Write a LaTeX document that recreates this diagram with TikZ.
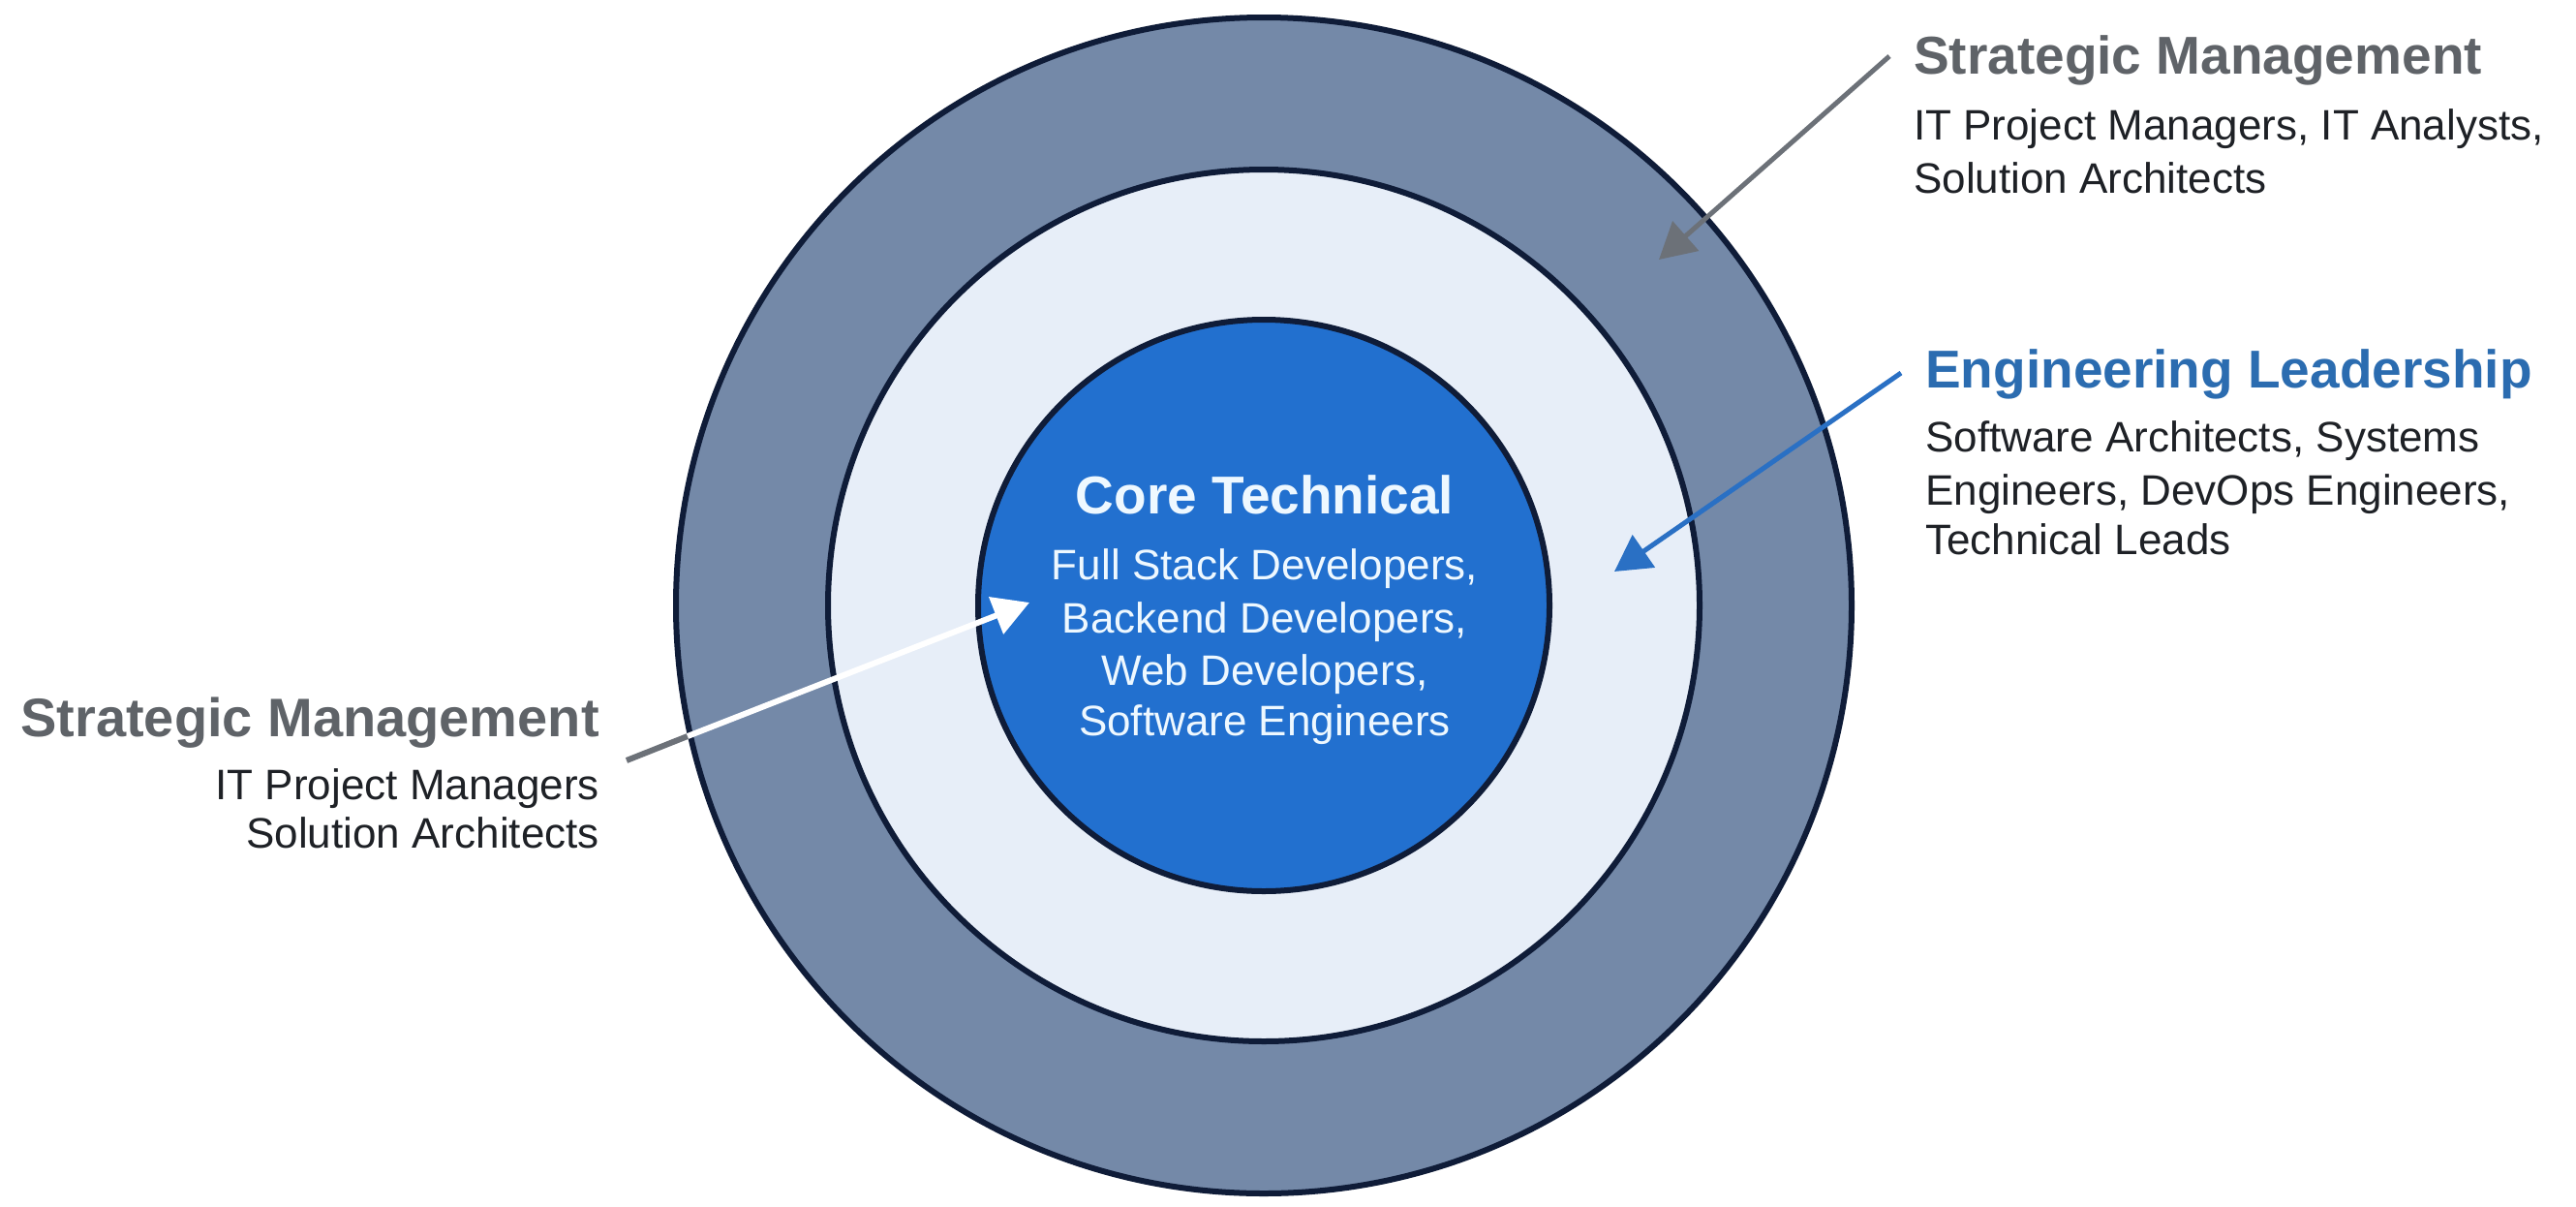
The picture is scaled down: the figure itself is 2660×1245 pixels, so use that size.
\documentclass[tikz,border=0pt]{standalone}
\usepackage{fontspec}
\setmainfont{Liberation Sans}
\usetikzlibrary{arrows.meta}
\definecolor{ringOuter}{HTML}{7489A8}
\definecolor{ringMid}{HTML}{E7EEF8}
\definecolor{ringIn}{HTML}{2270CF}
\definecolor{ringLine}{HTML}{0F1C38}
\definecolor{headGray}{HTML}{5F6368}
\definecolor{bodyText}{HTML}{1E2126}
\definecolor{headBlue}{HTML}{2B6CB0}
\definecolor{arrowGray}{HTML}{6C7178}
\definecolor{arrowBlue}{HTML}{2A70C4}
\definecolor{coreText}{HTML}{EEF8FF}
\begin{document}
\begin{tikzpicture}[x=1pt,y=-1pt,
  ring/.style={circle, draw=ringLine, line width=6pt, inner sep=0pt, outer sep=0pt},
  headtxt/.style={inner sep=0pt, font=\fontsize{55}{60}\selectfont\bfseries},
  bodytxt/.style={inner sep=0pt, font=\fontsize{44}{52}\selectfont, text=bodyText},
  coretxt/.style={inner sep=0pt, font=\fontsize{44}{52}\selectfont, text=coreText},
  pointer/.style={line width=5pt, -{Triangle[length=37pt,width=40pt]}}
]
\useasboundingbox (0,0) rectangle (2660,1245);
\fill[white] (0,0) rectangle (2660,1245);

% rings
\node[ring, fill=ringOuter, minimum size=1214pt] (outer) at (1305,625) {};
\node[ring, fill=ringMid, minimum size=900pt] (middle) at (1305,625) {};
\node[ring, fill=ringIn, minimum size=590pt] (inner) at (1305,625) {};

% core text
\node[headtxt, text=coreText, anchor=base] (coreT) at (1306,530) {Core Technical};
\node[coretxt, anchor=base] (core1) at (1306,598) {Full Stack Developers,};
\node[coretxt, anchor=base] (core2) at (1306,653) {Backend Developers,};
\node[coretxt, anchor=base] (core3) at (1306,707) {Web Developers,};
\node[coretxt, anchor=base] (core4) at (1306,759) {Software Engineers};

% top right block
\node[headtxt, text=headGray, anchor=base west] (smT) at (1976,76) {Strategic Management};
\node[bodytxt, anchor=base west] (sm1) at (1976,144) {IT Project Managers, IT Analysts,};
\node[bodytxt, anchor=base west] (sm2) at (1976,199) {Solution Architects};

% engineering block
\node[headtxt, text=headBlue, anchor=base west] (elT) at (1988,400) {Engineering Leadership};
\node[bodytxt, anchor=base west] (el1) at (1988,466) {Software Architects, Systems};
\node[bodytxt, anchor=base west] (el2) at (1988,521) {Engineers, DevOps Engineers,};
\node[bodytxt, anchor=base west] (el3) at (1988,572) {Technical Leads};

% left block
\node[headtxt, text=headGray, anchor=base east, font=\fontsize{56}{60}\selectfont\bfseries] (lmT) at (619,760) {Strategic Management};
\node[bodytxt, anchor=base east] (lm1) at (619,825) {IT Project Managers};
\node[bodytxt, anchor=base east] (lm2) at (619,875) {Solution Architects};

% arrow coordinates
\coordinate (gA) at (1951,58);
\coordinate (gB) at (1713,268);
\coordinate (bA) at (1963,385);
\coordinate (bB) at (1667,590);
\coordinate (wA) at (647,785);
\coordinate (wM) at (710,760);
\coordinate (wB) at (1063,622);

\draw[pointer, arrowGray] (gA) -- (gB);
\draw[pointer, arrowBlue] (bA) -- (bB);
\draw[line width=6pt, arrowGray] (wA) -- (wM);
\draw[pointer, line width=6pt, white] (wM) -- (wB);
\end{tikzpicture}
\end{document}
